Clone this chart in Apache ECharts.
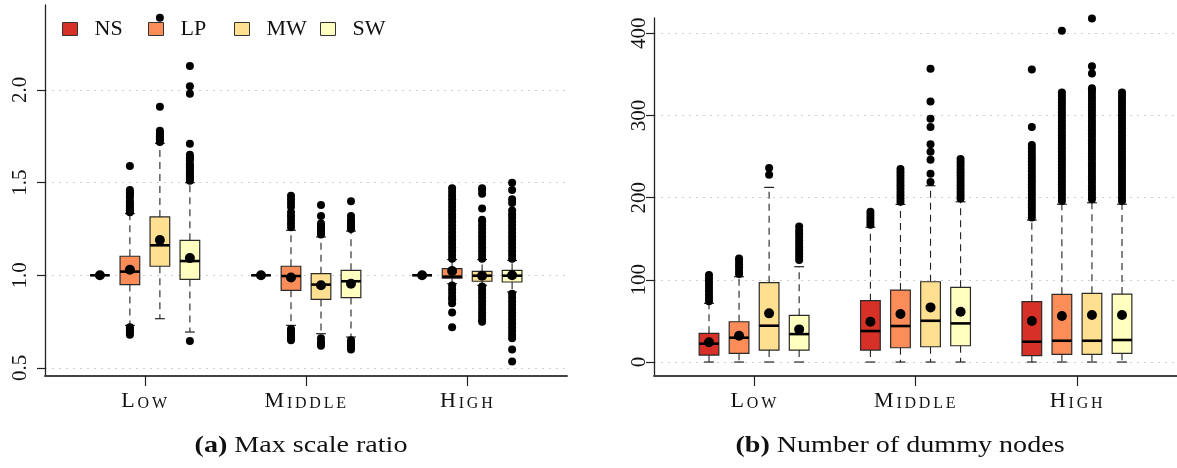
<!DOCTYPE html>
<html><head><meta charset="utf-8">
<script src="https://cdn.jsdelivr.net/npm/echarts@6/dist/echarts.min.js"></script>
<style>html,body{margin:0;padding:0;background:#fff}#c{width:1177px;height:468px}</style>
</head><body><div id="c"></div>
<script>
// ---------- data ----------
const groups = ['Low', 'Middle', 'High'];
const methods = ['NS', 'LP', 'MW', 'SW'];
const captions = ['Max scale ratio', 'Number of dummy nodes'];
const msrTicks = [0.5, 1.0, 1.5, 2.0];
const dnTicks = [0, 100, 200, 300, 400];

// Max scale ratio: [lower whisker, Q1, median, Q3, upper whisker] for Low, Middle, High
const msrBoxNS = [[1, 1, 1, 1, 1], [1, 1, 1, 1, 1], [1, 1, 1, 1, 1]];
const msrBoxLP = [[0.73, 0.95, 1.02, 1.103, 1.333], [0.73, 0.919, 0.996, 1.049, 1.243], [0.955, 0.985, 0.993, 1.036, 1.085]];
const msrBoxMW = [[0.766, 1.049, 1.162, 1.315, 1.712], [0.685, 0.87, 0.95, 1.009, 1.207], [0.946, 0.968, 0.998, 1.021, 1.085]];
const msrBoxSW = [[0.694, 0.978, 1.077, 1.189, 1.50], [0.667, 0.88, 0.968, 1.027, 1.239], [0.91, 0.964, 0.998, 1.027, 1.08]];
const msrMeanNS = [1.0, 1.0, 1.0];
const msrMeanLP = [1.03, 0.988, 1.023];
const msrMeanMW = [1.19, 0.946, 0.998];
const msrMeanSW = [1.093, 0.955, 1.0];
const msrOutNS = [[], [], []];
const msrOutLP = [
  [0.68, 0.69, 0.70, 0.71, 0.72, 1.34, 1.35, 1.36, 1.37, 1.38, 1.39, 1.40, 1.42, 1.43, 1.44, 1.45, 1.46, 1.59],
  [0.65, 0.66, 0.67, 0.68, 0.69, 0.70, 0.71, 1.26, 1.28, 1.30, 1.32, 1.34, 1.37, 1.39, 1.41, 1.43],
  [0.72, 0.80, 0.85, 0.87, 0.885, 0.905, 0.925, 0.945, 1.09, 1.11, 1.13, 1.15, 1.17, 1.19, 1.21, 1.23, 1.25, 1.27, 1.29, 1.31, 1.33, 1.35, 1.37, 1.39, 1.41, 1.43, 1.45, 1.47]
];
const msrOutMW = [
  [1.72, 1.73, 1.74, 1.75, 1.76, 1.77, 1.78, 1.91, 2.39],
  [0.62, 0.63, 0.64, 0.66, 1.22, 1.23, 1.24, 1.25, 1.26, 1.27, 1.28, 1.32, 1.38],
  [0.75, 0.76, 0.78, 0.80, 0.82, 0.84, 0.86, 0.88, 0.90, 0.92, 0.94, 1.09, 1.11, 1.13, 1.15, 1.17, 1.19, 1.21, 1.23, 1.25, 1.27, 1.29, 1.30, 1.36, 1.44, 1.46, 1.47]
];
const msrOutSW = [
  [0.645, 1.51, 1.52, 1.53, 1.54, 1.55, 1.56, 1.57, 1.58, 1.59, 1.60, 1.62, 1.63, 1.64, 1.65, 1.71, 1.98, 2.02, 2.13],
  [0.60, 0.61, 0.62, 0.63, 0.64, 0.65, 1.25, 1.26, 1.27, 1.28, 1.29, 1.30, 1.32, 1.40],
  [0.535, 0.60, 0.66, 0.68, 0.70, 0.72, 0.74, 0.76, 0.78, 0.80, 0.82, 0.84, 0.86, 0.88, 0.90, 1.09, 1.11, 1.13, 1.15, 1.17, 1.19, 1.21, 1.23, 1.25, 1.27, 1.29, 1.31, 1.33, 1.35, 1.39, 1.41, 1.46, 1.50]
];

// Number of dummy nodes
const dnBoxNS = [[0, 8.5, 22.3, 34.9, 71.4], [0, 14.6, 37.7, 74.6, 164], [0, 7.7, 24.7, 73.4, 172.7]];
const dnBoxLP = [[0, 10.6, 29.6, 49, 103.8], [0, 17.4, 43.8, 87.6, 191.8], [0, 9.4, 25.9, 82.4, 192]];
const dnBoxMW = [[0, 14.6, 44.2, 96.5, 212.5], [0, 18.6, 50.2, 97.7, 214.5], [0, 9.4, 25.9, 83.6, 193.8]];
const dnBoxSW = [[0, 14.6, 34, 56.8, 116], [0, 19.8, 47, 90.9, 195], [0, 10.6, 26.8, 82.7, 192]];
const dnMeanNS = [24, 49, 49.9];
const dnMeanLP = [32, 58.4, 56];
const dnMeanMW = [59.2, 66.5, 57.2];
const dnMeanSW = [39.7, 61.2, 57.2];
const dnOutNS = [
  [74, 78, 82, 86, 90, 94, 98, 102, 106],
  [167, 171, 175, 179, 183],
  [176, 180, 184, 188, 192, 196, 200, 204, 208, 212, 216, 220, 224, 228, 232, 236, 240, 244, 248, 252, 256, 260, 264, 286, 356]
];
const dnOutLP = [
  [107, 111, 115, 119, 123, 126],
  [195, 199, 203, 207, 211, 215, 219, 223, 227, 231, 235],
  [196, 200, 204, 208, 212, 216, 220, 224, 228, 232, 236, 240, 244, 248, 252, 256, 260, 264, 268, 272, 276, 280, 284, 288, 292, 296, 300, 304, 308, 312, 316, 320, 324, 328, 403]
];
const dnOutMW = [
  [228, 236],
  [219, 229, 246, 256, 265, 286, 296, 317, 357],
  [198, 202, 206, 210, 214, 218, 222, 226, 230, 234, 238, 242, 246, 250, 254, 258, 262, 266, 270, 274, 278, 282, 286, 290, 294, 298, 302, 306, 310, 314, 318, 322, 326, 330, 333, 351, 360, 418]
];
const dnOutSW = [
  [124, 128, 132, 136, 140, 144, 148, 152, 156, 160, 165],
  [199, 203, 207, 211, 215, 219, 223, 227, 231, 235, 239, 243, 247],
  [196, 200, 204, 208, 212, 216, 220, 224, 228, 232, 236, 240, 244, 248, 252, 256, 260, 264, 268, 272, 276, 280, 284, 288, 292, 296, 300, 304, 308, 312, 316, 320, 324, 328, 419]
];

// ---------- build ----------
const FONT = 'Liberation Serif';
const colors = ['#d73027', '#fc8d59', '#fee090', '#ffffbf'];
const SLOT = 0.1862, HALF = 0.061;
const panels = [
  { boxes: [msrBoxNS, msrBoxLP, msrBoxMW, msrBoxSW], means: [msrMeanNS, msrMeanLP, msrMeanMW, msrMeanSW], outs: [msrOutNS, msrOutLP, msrOutMW, msrOutSW] },
  { boxes: [dnBoxNS, dnBoxLP, dnBoxMW, dnBoxSW], means: [dnMeanNS, dnMeanLP, dnMeanMW, dnMeanSW], outs: [dnOutNS, dnOutLP, dnOutMW, dnOutSW] }
];

function renderBox(params, api) {
  const x = api.value(0);
  const p = i => api.coord([x, api.value(i)]);
  const lo = p(1), q1 = p(2), md = p(3), q3 = p(4), hi = p(5), mn = p(6);
  const hw = api.size([HALF, 0])[0];
  const cx = lo[0];
  const color = api.visual('color');
  const dash = { stroke: '#222', lineWidth: 1.1, lineDash: [7, 5] };
  const solid = { stroke: '#222', lineWidth: 1.2 };
  return {
    type: 'group', children: [
      { type: 'line', shape: { x1: cx, y1: q3[1], x2: cx, y2: hi[1] }, style: dash },
      { type: 'line', shape: { x1: cx, y1: q1[1], x2: cx, y2: lo[1] }, style: dash },
      { type: 'line', shape: { x1: cx - hw / 2, y1: hi[1], x2: cx + hw / 2, y2: hi[1] }, style: solid },
      { type: 'line', shape: { x1: cx - hw / 2, y1: lo[1], x2: cx + hw / 2, y2: lo[1] }, style: solid },
      { type: 'rect', shape: { x: cx - hw, y: q3[1], width: 2 * hw, height: q1[1] - q3[1] }, style: { fill: color, stroke: '#2a2a2a', lineWidth: 1.2 } },
      { type: 'line', shape: { x1: cx - hw, y1: md[1], x2: cx + hw, y2: md[1] }, style: { stroke: '#000', lineWidth: 2.6 } },
      { type: 'circle', shape: { cx: cx, cy: mn[1], r: 5 }, style: { fill: '#000' } }
    ]
  };
}

const series = [];
panels.forEach((pn, k) => {
  methods.forEach((m, si) => {
    const off = (si - 1.5) * SLOT;
    series.push({
      type: 'custom', name: m, xAxisIndex: k, yAxisIndex: k, z: 2,
      itemStyle: { color: colors[si] },
      renderItem: renderBox,
      encode: { x: 0, y: [1, 2, 3, 4, 5, 6] },
      data: pn.boxes[si].map((b, gi) => [gi + off].concat(b, [pn.means[si][gi]]))
    });
    series.push({
      type: 'scatter', name: m, xAxisIndex: k, yAxisIndex: k, z: 3, silent: true,
      symbolSize: 8, itemStyle: { color: '#000', opacity: 1 },
      data: pn.outs[si].flatMap((arr, gi) => arr.map(v => [gi + off, v]))
    });
  });
});

// small-caps label: first letter large, rest small capitals
const xLabel = v => {
  const g = groups[Math.round(v)] || '';
  return '{a|' + g[0] + '}' + g.slice(1).toUpperCase().split('').map(c => '{b|' + c + '}').join('');
};
function xAxisCfg(k) {
  return {
    type: 'value', gridIndex: k, min: -0.62, max: 2.62,
    axisLine: { show: true, onZero: false, lineStyle: { color: '#444', width: 2 } },
    axisTick: { show: true, length: 10, customValues: [0, 1, 2], lineStyle: { color: '#222', width: 1.2 } },
    axisLabel: {
      customValues: [0, 1, 2], margin: 14, formatter: xLabel,
      rich: {
        a: { fontFamily: FONT, fontSize: 22, color: '#111', verticalAlign: 'bottom', padding: [0, 1.4, 0, 0] },
        b: { fontFamily: FONT, fontSize: 16, color: '#111', verticalAlign: 'bottom', padding: [0, 1.4, 0, 1.4] }
      }
    },
    splitLine: { show: false }
  };
}
function yAxisCfg(k, min, max, ticks, fmt, margin) {
  return {
    type: 'value', gridIndex: k, min: min, max: max,
    axisLine: { show: true, onZero: false, lineStyle: { color: '#222', width: 1.3 } },
    axisTick: { show: true, length: 8, customValues: ticks, lineStyle: { color: '#222', width: 1.2 } },
    axisLabel: { customValues: ticks, rotate: 90, margin: margin, fontFamily: FONT, fontSize: 21, color: '#111', formatter: fmt },
    splitLine: { show: true, lineStyle: { color: '#cfcfcf', type: [2, 5], width: 1.2 } }
  };
}

const legends = methods.map((m, i) => ({
  left: 62 + 86 * i, top: 18, padding: 0, itemWidth: 15, itemHeight: 13, icon: 'rect', selectedMode: false,
  textStyle: { fontFamily: FONT, fontSize: 22, color: '#111', padding: [0, 0, 0, 12] },
  data: [{ name: m, itemStyle: { color: colors[i], borderColor: '#333', borderWidth: 1 } }]
}));

const capStyle = t => ({
  text: t, align: 'center', verticalAlign: 'middle', fontFamily: FONT, fontSize: 24, fill: '#111',
  rich: { b: { fontFamily: FONT, fontSize: 24, fontWeight: 'bold', fill: '#111' } }
});

const option = {
  animation: false,
  backgroundColor: '#fff',
  grid: [
    { left: 45, top: 5, width: 522, height: 371 },
    { left: 654, top: 18, width: 523, height: 358 }
  ],
  xAxis: [xAxisCfg(0), xAxisCfg(1)],
  yAxis: [
    yAxisCfg(0, 0.4568, 2.4586, msrTicks, v => v.toFixed(1), 14),
    yAxisCfg(1, -17.0, 418.6, dnTicks, v => String(v), 4)
  ],
  legend: legends,
  graphic: [
    { type: 'text', x: 301, y: 446, scaleX: 1.17, style: capStyle('{b|(a)} ' + captions[0]) },
    { type: 'text', x: 900, y: 446, scaleX: 1.17, style: capStyle('{b|(b)} ' + captions[1]) }
  ],
  series: series
};
const chart = echarts.init(document.getElementById('c'));
chart.setOption(option);
</script></body></html>
